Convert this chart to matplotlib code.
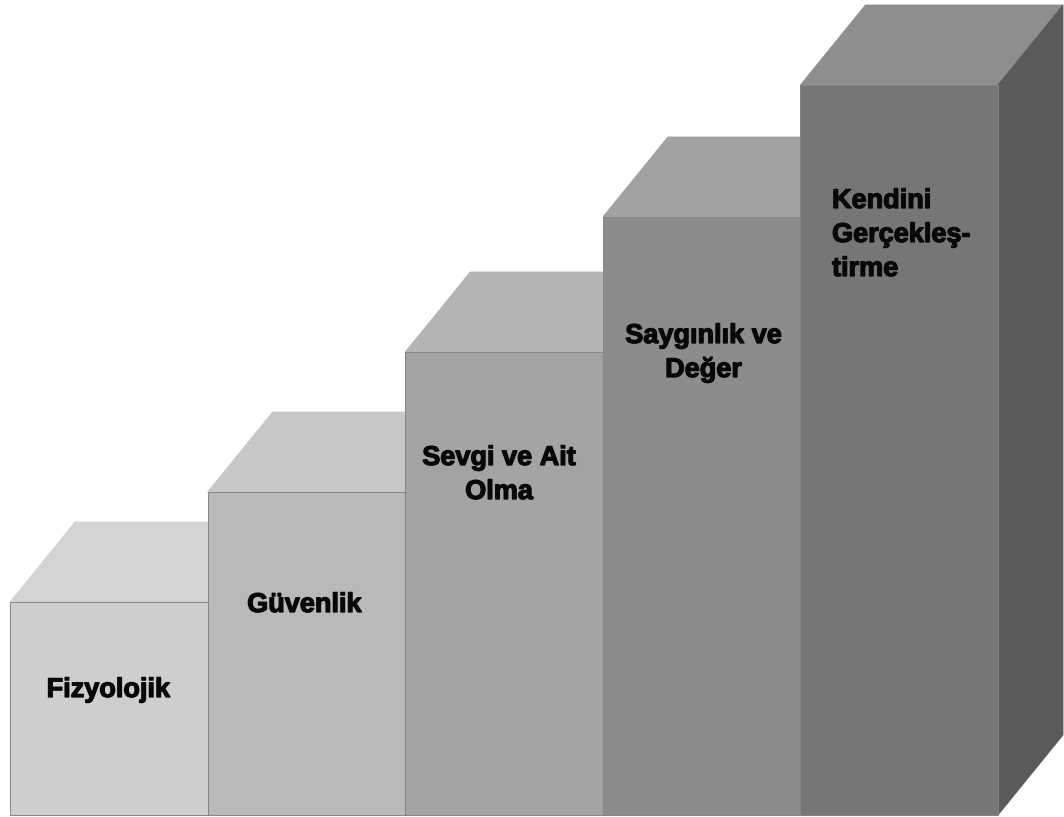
import matplotlib
matplotlib.use("Agg")
import matplotlib.pyplot as plt
from matplotlib.patches import Polygon
import matplotlib.patheffects as pe

# ---- data ----
categories = ["Fizyolojik", "Güvenlik", "Sevgi ve\u00a0Ait\nOlma",
              "Saygınlık ve\nDeğer", "Kendini\nGerçekleş-\ntirme"]
heights = [2.13, 3.23, 4.63, 5.98, 7.30]
front_colors = ["#cecece", "#b9b9b9", "#a3a3a3", "#8c8c8c", "#767676"]
top_colors = ["#d3d3d3", "#c7c7c7", "#b4b4b4", "#a1a1a1", "#8e8e8e"]
side_color = "#5a5a5a"

# label anchors (x in category units, baseline y of first line), alignment
label_x = [0.498, 1.490, 2.475, 3.51, 4.160]
label_y = [1.18, 2.03, 3.50, 4.72, 6.07]
label_ha = ["center", "center", "center", "center", "left"]

# ---- geometry of the pseudo-3D depth ----
DX = 0.329   # depth offset in category units
DY = 0.80    # depth offset in value units
LINE = 0.34

W, H = 1064, 817
fig = plt.figure(figsize=(W / 100, H / 100), dpi=100)
ax = fig.add_axes([0, 0, 1, 1])
ax.set_xlim(-10 / 197.6, (W - 10) / 197.6)
ax.set_ylim(-0.02, (H - 2) / 100)
ax.axis("off")

n = len(categories)
for i in range(n):
    h = heights[i]
    z = 2 + i * 3
    top = Polygon([(i, h), (i + 1, h), (i + 1 + DX, h + DY), (i + DX, h + DY)],
                  closed=True, facecolor=top_colors[i], edgecolor=top_colors[i],
                  linewidth=0.6, zorder=z)
    ax.add_patch(top)
    if i == n - 1:
        side = Polygon([(i + 1, 0), (i + 1, h), (i + 1 + DX, h + DY), (i + 1 + DX, DY)],
                       closed=True, facecolor=side_color, edgecolor=side_color,
                       linewidth=0.6, zorder=z)
        ax.add_patch(side)
    ax.bar(i, h, width=1.0, align="edge", bottom=0, color=front_colors[i],
           edgecolor="#858585", linewidth=0.7, zorder=z + 1)

for i, lab in enumerate(categories):
    for k, line in enumerate(lab.split("\n")):
        ax.text(label_x[i], label_y[i] - k * LINE, line,
                ha=label_ha[i], va="baseline",
                fontsize=19.5, fontweight="bold",
                family=["Liberation Sans", "DejaVu Sans"],
                color="#080808", zorder=50,
                path_effects=[pe.withStroke(linewidth=0.9, foreground="#080808")])

fig.savefig("out.png", dpi=100, facecolor="white")
